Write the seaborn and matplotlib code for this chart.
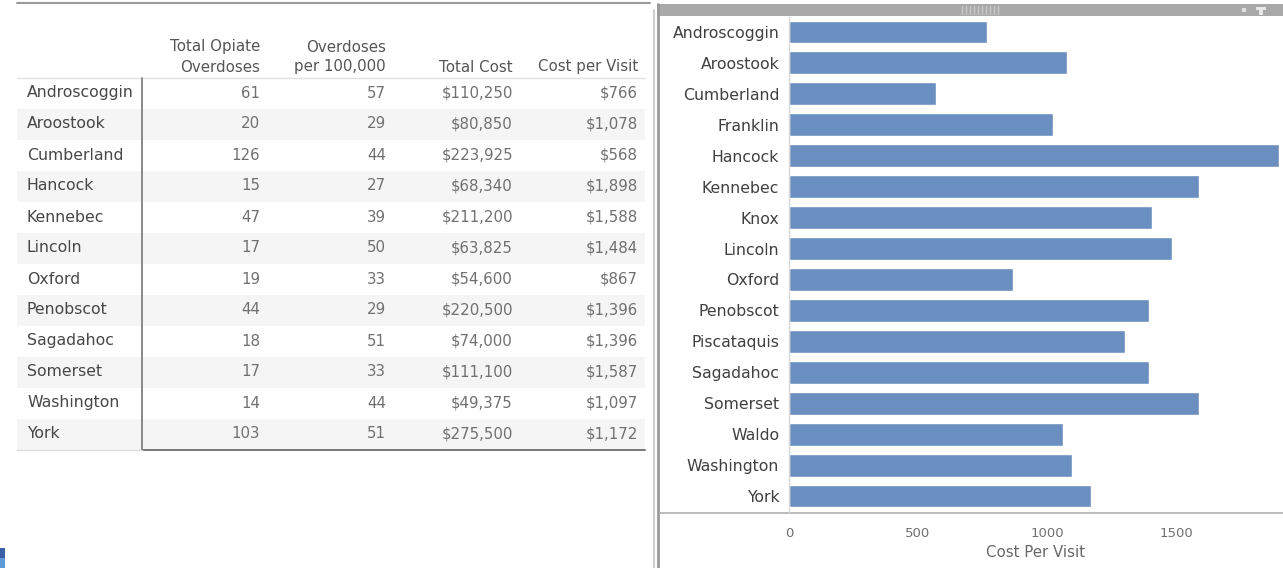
import matplotlib
matplotlib.use("Agg")
import matplotlib.pyplot as plt
from matplotlib.lines import Line2D
from matplotlib.patches import Rectangle
import seaborn as sns
import pandas as pd

# ---------------- data ----------------
table_counties = ["Androscoggin", "Aroostook", "Cumberland", "Hancock", "Kennebec",
                  "Lincoln", "Oxford", "Penobscot", "Sagadahoc", "Somerset",
                  "Washington", "York"]
total_overdoses = [61, 20, 126, 15, 47, 17, 19, 44, 18, 17, 14, 103]
overdoses_per_100k = [57, 29, 44, 27, 39, 50, 33, 29, 51, 33, 44, 51]
total_cost = [110250, 80850, 223925, 68340, 211200, 63825, 54600, 220500,
              74000, 111100, 49375, 275500]
table_cost_per_visit = [766, 1078, 568, 1898, 1588, 1484, 867, 1396, 1396,
                        1587, 1097, 1172]
table_headers = [("Total Opiate", "Overdoses"), ("Overdoses", "per 100,000"),
                 ("", "Total Cost"), ("", "Cost per Visit")]

bar_counties = ["Androscoggin", "Aroostook", "Cumberland", "Franklin", "Hancock",
                "Kennebec", "Knox", "Lincoln", "Oxford", "Penobscot", "Piscataquis",
                "Sagadahoc", "Somerset", "Waldo", "Washington", "York"]
bar_cost_per_visit = [766, 1078, 568, 1022, 1898, 1588, 1405, 1484, 867, 1396,
                      1302, 1396, 1587, 1060, 1097, 1172]
x_ticks = [0, 500, 1000, 1500]
x_label = "Cost Per Visit"

# ---------------- figure ----------------
sns.set_style("white")
plt.rcParams["font.family"] = ["DejaVu Sans"]

W, H = 1283, 568
fig = plt.figure(figsize=(W / 100, H / 100), dpi=100)
fig.patch.set_facecolor("white")

# overlay axes in pixel coordinates for the text table and dashboard chrome
ov = fig.add_axes([0, 0, 1, 1])
ov.set_xlim(0, W)
ov.set_ylim(H, 0)
ov.axis("off")

# ---- table ----
row0, row_h = 93, 31
col_right = [260, 386, 513, 638]
label_x = 27
label_color = "#474747"
num_color = "#707070"
n = len(table_counties)

for i in range(n):
    yc = row0 + row_h * i
    if i % 2 == 1:
        ov.add_patch(Rectangle((17, yc - row_h / 2), 628, row_h,
                               facecolor="#f5f5f5", edgecolor="none", zorder=0))
    ov.text(label_x, yc, table_counties[i], ha="left", va="center",
            fontsize=11.3, color=label_color)
    vals = [f"{total_overdoses[i]}", f"{overdoses_per_100k[i]}",
            f"${total_cost[i]:,}", f"${table_cost_per_visit[i]:,}"]
    for xr, v in zip(col_right, vals):
        ov.text(xr, yc, v, ha="right", va="center", fontsize=10.8, color=num_color)

for xr, (l1, l2) in zip(col_right, table_headers):
    if l1:
        ov.text(xr, 47, l1, ha="right", va="center", fontsize=10.8, color="#555555")
    ov.text(xr, 67, l2, ha="right", va="center", fontsize=10.8, color="#555555")

table_top = row0 - row_h / 2
table_bot = row0 + row_h * (n - 1) + row_h / 2
ov.add_line(Line2D([17, 645], [table_top, table_top], color="#e2e2e2", lw=1))
ov.add_line(Line2D([142, 142], [table_top, table_bot], color="#777777", lw=1.2))
ov.add_line(Line2D([142, 645], [table_bot, table_bot], color="#777777", lw=1.4))
ov.add_line(Line2D([17, 142], [table_bot, table_bot], color="#dddddd", lw=1))

# ---- dashboard chrome ----
ov.add_line(Line2D([17, 650], [3, 3], color="#9a9a9a", lw=1.5))
ov.add_line(Line2D([654, 654], [10, H], color="#cfcfcf", lw=1.5))
ov.add_patch(Rectangle((657, 4), W - 657, 12, facecolor="#a9a9a9",
                       edgecolor="none"))
ov.add_line(Line2D([658, 658], [4, H], color="#9a9a9a", lw=2))
for gx in range(962, 1000, 4):
    ov.add_line(Line2D([gx, gx], [6, 14], color="#c8c8c8", lw=1))
ov.add_patch(Rectangle((1242, 8), 4, 4, facecolor="#e0e0e0", edgecolor="none"))
ov.add_patch(Rectangle((1256, 7), 10, 3, facecolor="#e8e8e8", edgecolor="none"))
ov.add_patch(Rectangle((1259, 10), 4, 5, facecolor="#e8e8e8", edgecolor="none"))
ov.add_line(Line2D([660, W], [513, 513], color="#b5b5b5", lw=1.3))
ov.add_patch(Rectangle((0, 548), 5, 10, facecolor="#3b5ea8", edgecolor="none"))
ov.add_patch(Rectangle((0, 558), 5, 10, facecolor="#5d9ad6", edgecolor="none"))

# ---- bar chart ----
ax_l, ax_r, ax_t, ax_b = 789, W, 16.5, 511.5
ax = fig.add_axes([ax_l / W, 1 - ax_b / H, (ax_r - ax_l) / W, (ax_b - ax_t) / H])
ax.set_facecolor("none")
df = pd.DataFrame({"county": bar_counties, "cost": bar_cost_per_visit})
sns.barplot(data=df, x="cost", y="county", orient="h", color="#6a8ec0",
            saturation=1, width=0.74, ax=ax)
ax.set_xlim(0, 1914)
ax.set_xticks(x_ticks)
ax.set_xticklabels([str(t) for t in x_ticks])
ax.set_ylabel("")
ax.set_xlabel(x_label, fontsize=10.8, color="#666666", labelpad=4)
ax.tick_params(axis="y", length=0, pad=7, labelsize=11.3, labelcolor="#404040")
ax.tick_params(axis="x", length=0, pad=11, labelsize=9.5, labelcolor="#707070")
for s in ["top", "right", "bottom"]:
    ax.spines[s].set_visible(False)
ax.spines["left"].set_color("#d8d8d8")
ax.spines["left"].set_linewidth(1)

fig.savefig("out.png", dpi=100)
